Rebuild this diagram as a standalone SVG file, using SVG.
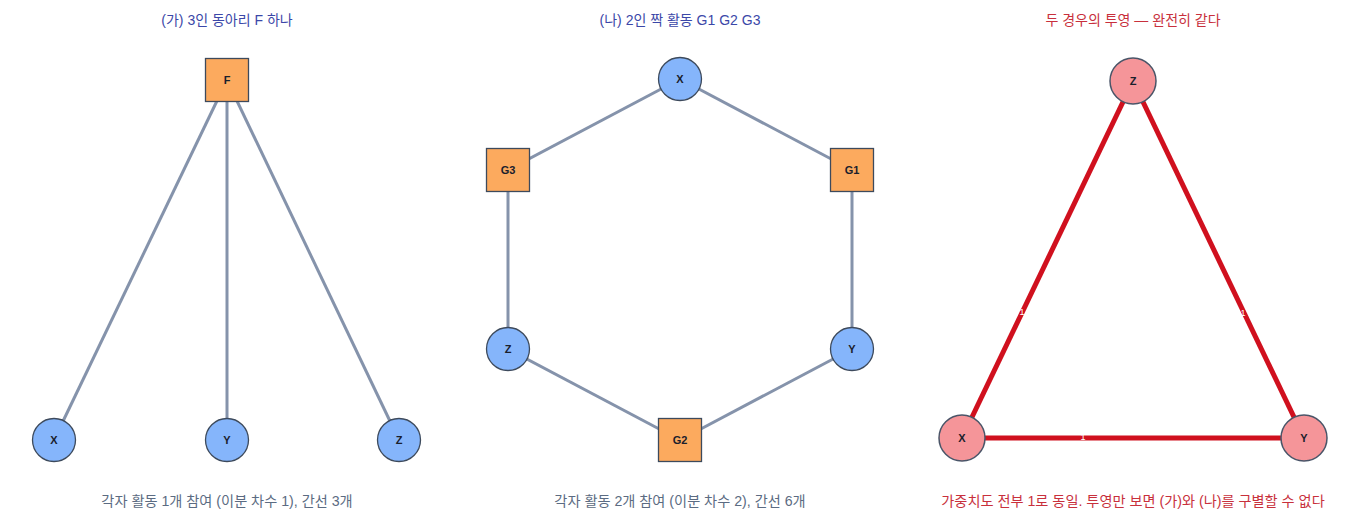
<svg xmlns="http://www.w3.org/2000/svg" width="1360" height="530" viewBox="0 0 1360 530">
<style>
text{font-family:"Liberation Sans","Noto Sans CJK KR",sans-serif;text-anchor:middle}
.title{font-size:14px;fill:#3b47a8}
.title.red{fill:#c8303c}
.cap{font-size:14.2px;fill:#5b6b82}
.cap.red{fill:#c8303c}
.lbl{font-size:11px;font-weight:bold;fill:#1a202c;dominant-baseline:central}
.e{stroke:#8593ab;stroke-width:3;fill:none}
.r{stroke:#d0101e;stroke-width:5;fill:none}
.c{fill:#85b5fb;stroke:#3d4a5c;stroke-width:1.3}
.s{fill:#fcaa5e;stroke:#3d4a5c;stroke-width:1.3}
.p{fill:#f59599;stroke:#4a5568;stroke-width:1.5}
.w{font-size:9px;fill:#ffffff;dominant-baseline:central}
</style>
<g id="titles">
<text class="title" x="227" y="25">(가) 3인 동아리 F 하나</text>
<text class="title" x="680" y="25">(나) 2인 짝 활동 G1 G2 G3</text>
<text class="title red" x="1133" y="25">두 경우의 투영 — 완전히 같다</text>
<text class="cap" x="227" y="506">각자 활동 1개 참여 (이분 차수 1), 간선 3개</text>
<text class="cap" x="680" y="506">각자 활동 2개 참여 (이분 차수 2), 간선 6개</text>
<text class="cap red" x="1133" y="506">가중치도 전부 1로 동일. 투영만 보면 (가)와 (나)를 구별할 수 없다</text>
</g>
<g id="connectors">
<line class="e" x1="227" y1="80" x2="54" y2="440"/>
<line class="e" x1="227" y1="80" x2="227" y2="440"/>
<line class="e" x1="227" y1="80" x2="399" y2="440"/>
<line class="e" x1="680" y1="79" x2="852" y2="170"/>
<line class="e" x1="852" y1="170" x2="852" y2="349"/>
<line class="e" x1="852" y1="349" x2="680" y2="440"/>
<line class="e" x1="680" y1="440" x2="508" y2="349"/>
<line class="e" x1="508" y1="349" x2="508" y2="170"/>
<line class="e" x1="508" y1="170" x2="680" y2="79"/>
<line class="r" x1="962" y1="438" x2="1133" y2="81"/>
<line class="r" x1="1304" y1="438" x2="1133" y2="81"/>
<line class="r" x1="962" y1="438" x2="1304" y2="438"/>
<text class="w" x="1022" y="312">1</text>
<text class="w" x="1243" y="313">1</text>
<text class="w" x="1083" y="437">1</text>
</g>
<g id="node-F"><rect class="s" x="205.5" y="58.5" width="43" height="43"/><text class="lbl" x="227" y="80">F</text></g>
<g id="node-X1"><circle class="c" cx="54" cy="440" r="21.5"/><text class="lbl" x="54" y="440">X</text></g>
<g id="node-Y1"><circle class="c" cx="227" cy="440" r="21.5"/><text class="lbl" x="227" y="440">Y</text></g>
<g id="node-Z1"><circle class="c" cx="399" cy="440" r="21.5"/><text class="lbl" x="399" y="440">Z</text></g>
<g id="node-X2"><circle class="c" cx="680" cy="79" r="21.5"/><text class="lbl" x="680" y="79">X</text></g>
<g id="node-G1"><rect class="s" x="830.5" y="148.5" width="43" height="43"/><text class="lbl" x="852" y="170">G1</text></g>
<g id="node-Y2"><circle class="c" cx="852" cy="349" r="21.5"/><text class="lbl" x="852" y="349">Y</text></g>
<g id="node-G2"><rect class="s" x="658.5" y="418.5" width="43" height="43"/><text class="lbl" x="680" y="440">G2</text></g>
<g id="node-Z2"><circle class="c" cx="508" cy="349" r="21.5"/><text class="lbl" x="508" y="349">Z</text></g>
<g id="node-G3"><rect class="s" x="486.5" y="148.5" width="43" height="43"/><text class="lbl" x="508" y="170">G3</text></g>
<g id="node-Z3"><circle class="p" cx="1133" cy="81" r="23"/><text class="lbl" x="1133" y="81">Z</text></g>
<g id="node-X3"><circle class="p" cx="962" cy="438" r="23"/><text class="lbl" x="962" y="438">X</text></g>
<g id="node-Y3"><circle class="p" cx="1304" cy="438" r="23"/><text class="lbl" x="1304" y="438">Y</text></g>
</svg>
